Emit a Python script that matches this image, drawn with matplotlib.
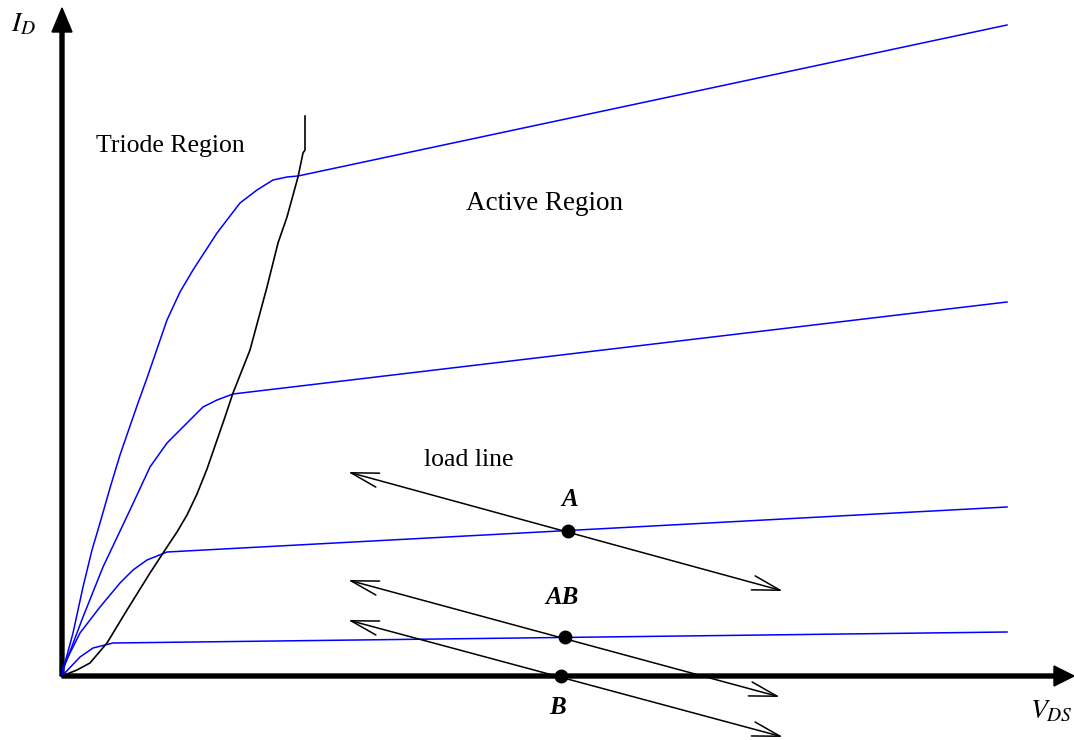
"""
MOSFET output characteristics with load lines (class A / AB / B bias points)
"""

import matplotlib
matplotlib.use('Agg')
import matplotlib.pyplot as plt

plt.rcParams['font.family'] = ['Liberation Serif', 'DejaVu Serif']
plt.rcParams['mathtext.fontset'] = 'stix'

# I_D - V_DS curves (units: pixels from the axis origin)
curve1_x = [0, 1, 11, 21, 30, 38, 48, 58, 68, 76, 85, 105, 118, 131, 155, 178, 195, 211, 225, 236, 945]
curve1_y = [0, 6, 43, 89, 126, 153, 188, 221, 250, 273, 298, 356, 384, 406, 443, 473, 486, 496, 499, 500, 651]

curve2_x = [0, 1, 21, 41, 68, 88, 105, 121, 141, 155, 171, 945]
curve2_y = [0, 6, 59, 109, 166, 209, 233, 249, 269, 276, 282, 374]

curve3_x = [0, 1, 18, 38, 58, 71, 85, 105, 945]
curve3_y = [0, 9, 43, 69, 93, 106, 116, 124, 169]

curve4_x = [0, 18, 31, 51, 945]
curve4_y = [0, 19, 28, 33, 44]

# boundary between triode and active region
edge_x = [0, 15, 28, 45, 65, 88, 105, 115, 125, 135, 145, 163, 171, 188, 205, 216, 225, 236, 241, 243, 243]
edge_y = [0, 6, 13, 33, 66, 103, 129, 144, 161, 182, 207, 259, 283, 326, 389, 433, 459, 499, 523, 526, 560]

# load lines (left end, right end) and operating points
load_names = ['A', 'AB', 'B']
load_x0 = [286, 286, 286]
load_y0 = [204, 96, 56]
load_x1 = [721, 718, 721]
load_y1 = [85, -21, -61]
q_x = [506, 503, 499]
q_y = [145, 39, 0]
q_label_x = [508, 500, 496]
q_label_y = [176, 78, -31]

BLUE = '#0000ff'

fig = plt.figure(figsize=(10.74, 7.40), dpi=100)
ax = fig.add_axes([0, 0, 1, 1])
ax.set_xlim(-62, 1012)
ax.set_ylim(-64, 676)
ax.axis('off')

# axes with filled arrow heads
ax.arrow(0, 0, 1012, 0, width=4, head_width=20, head_length=20,
         length_includes_head=True, fc='k', ec='k')
ax.arrow(0, 0, 0, 668, width=4, head_width=20, head_length=24,
         length_includes_head=True, fc='k', ec='k')

for cx, cy in [(curve1_x, curve1_y), (curve2_x, curve2_y),
               (curve3_x, curve3_y), (curve4_x, curve4_y)]:
    ax.plot(cx, cy, color=BLUE, lw=1.1)

ax.plot(edge_x, edge_y, color='k', lw=1.2)

for i in range(len(load_names)):
    ax.annotate('', xy=(load_x0[i], load_y0[i]), xytext=(load_x1[i], load_y1[i]),
                arrowprops=dict(arrowstyle='<->, head_length=1.0, head_width=0.26',
                                mutation_scale=20, lw=1.1, color='k',
                                shrinkA=0, shrinkB=0))
    ax.plot(q_x[i], q_y[i], 'o', color='k', ms=9)
    ax.text(q_label_x[i], q_label_y[i], load_names[i], fontsize=18,
            fontweight='bold', fontstyle='italic', ha='center', va='center')

ax.text(108, 530, 'Triode Region', fontsize=18.5, ha='center', va='center')
ax.text(483, 472, 'Active Region', fontsize=19.5, ha='center', va='center')
ax.text(407, 216, 'load line', fontsize=18.5, ha='center', va='center')
ax.text(-38, 651, r'$I_D$', fontsize=20, ha='center', va='center')
ax.text(989, -36, r'$V_{DS}$', fontsize=20, ha='center', va='center')

plt.savefig('out.png', dpi=100)
plt.close()
